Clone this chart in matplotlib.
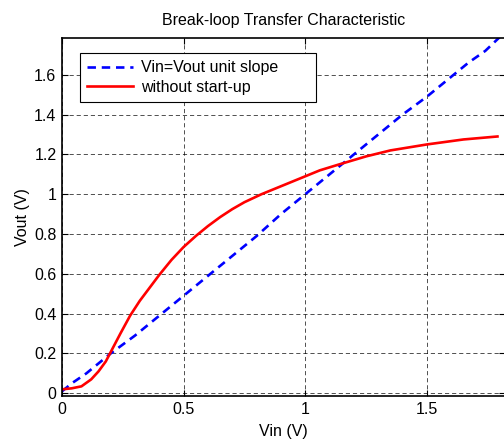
import numpy as np
import matplotlib.pyplot as plt

plt.rcParams.update({
    'font.family': ['Liberation Sans', 'DejaVu Sans'],
    'font.size': 11.5,
})

# Vin = Vout reference line (unit slope)
vin_unit = [0.0, 0.04, 0.10, 0.15, 0.20, 0.25, 0.30, 0.40, 0.50, 0.60, 0.70, 0.80,
            0.90, 1.00, 1.10, 1.20, 1.25, 1.30, 1.40, 1.50, 1.60, 1.67, 1.74, 1.80]
vout_unit = [0.01, 0.05, 0.10, 0.15, 0.20, 0.245, 0.29, 0.39, 0.49, 0.59, 0.69, 0.79,
             0.90, 1.00, 1.10, 1.20, 1.25, 1.30, 1.40, 1.49, 1.59, 1.66, 1.72, 1.79]

# break-loop curve without start-up
vin_red = [0.0, 0.04, 0.08, 0.12, 0.15, 0.18, 0.21, 0.24, 0.28, 0.32, 0.36, 0.40,
           0.45, 0.50, 0.55, 0.60, 0.65, 0.70, 0.75, 0.82, 0.90, 0.98, 1.06, 1.14,
           1.25, 1.35, 1.50, 1.65, 1.79]
vout_red = [0.02, 0.025, 0.035, 0.07, 0.11, 0.16, 0.23, 0.30, 0.39, 0.465, 0.53, 0.595,
            0.67, 0.735, 0.79, 0.84, 0.885, 0.925, 0.96, 1.00, 1.04, 1.08, 1.12, 1.15,
            1.19, 1.22, 1.25, 1.275, 1.29]

fig = plt.figure(figsize=(5.04, 4.41), dpi=100)
ax = fig.add_axes([0.123, 0.102, 0.879, 0.812])

ax.plot(vin_unit, vout_unit, color='#0000ff', linestyle=(0, (3.2, 2.2)), linewidth=1.9,
        label='Vin=Vout unit slope')
ax.plot(vin_red, vout_red, color='#ff0000', linewidth=1.9, label='without start-up')

ax.set_xlim(0, 1.821)
ax.set_ylim(-0.0136, 1.785)
ax.set_xticks([0, 0.5, 1, 1.5])
ax.set_xticklabels(['0', '0.5', '1', '1.5'])
ax.set_yticks([0, 0.2, 0.4, 0.6, 0.8, 1, 1.2, 1.4, 1.6])
ax.set_yticklabels(['0', '0.2', '0.4', '0.6', '0.8', '1', '1.2', '1.4', '1.6'])
ax.tick_params(direction='in', top=True, right=True, length=4, width=0.8, pad=4)
ax.grid(True, color='black', linestyle=(0, (5, 3.5)), linewidth=0.6, alpha=0.8)
for s in ax.spines.values():
    s.set_linewidth(1.2)

ax.set_xlabel('Vin (V)', labelpad=5)
ax.set_ylabel('Vout (V)', labelpad=3)
ax.set_title('Break-loop Transfer Characteristic', fontsize=11.5, pad=9)

# matlab style legend box: wide, extra room on the right
leg = ax.legend(loc='upper left', bbox_to_anchor=(0.0406, 0.82, 0.533, 0.138),
                mode='expand', borderaxespad=0, fancybox=False,
                framealpha=1, edgecolor='black', handlelength=2.9, borderpad=0.45,
                labelspacing=0.3, handletextpad=0.5)
leg.get_frame().set_linewidth(0.8)

fig.savefig('out.png', dpi=100)
